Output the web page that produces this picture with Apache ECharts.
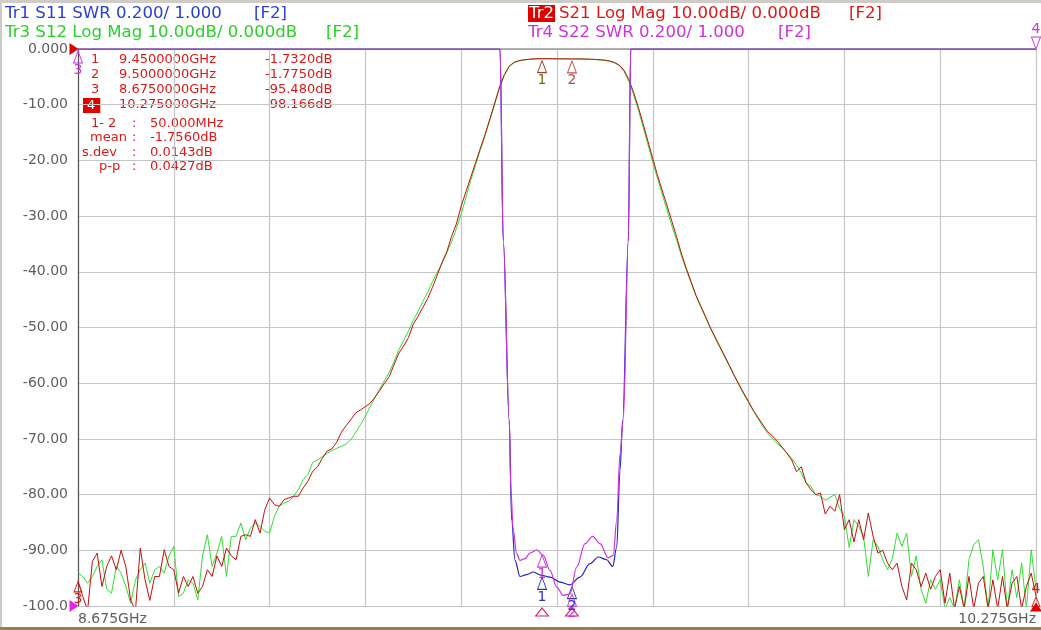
<!DOCTYPE html>
<html><head><meta charset="utf-8">
<script src="https://cdn.jsdelivr.net/npm/echarts@6/dist/echarts.min.js"></script>
<style>html,body{margin:0;padding:0;background:#fff}#c{width:1041px;height:630px}</style>
</head><body><div id="c"></div>
<script>
// sweep: 8.675 GHz .. 10.275 GHz, 201 points
const FREQ_START = 8.675, FREQ_STOP = 10.275, FREQ_STEP = 0.008;

// Tr2 S21 Log Mag (dB)
const s21LogMag = [
-95.5,-98.3,-100.8,-92,-90.5,-96.5,-92.9,-91,-93.5,-90,
-93,-99,-100.8,-89.6,-95.3,-99,-94.7,-94.7,-89.9,-92.9,
-93.5,-97.7,-94.7,-96.5,-94.7,-97.7,-96.5,-93.5,-94.7,-91,
-92.9,-89.6,-91,-91.7,-87.5,-87.2,-87.5,-84.5,-86.9,-82.7,
-80.6,-81.8,-82.1,-80.9,-80.6,-80.3,-80.3,-78.8,-77.6,-75.8,
-75,-73.5,-72.2,-71.8,-70.6,-68.8,-67.6,-66.5,-65.3,-64.8,
-64.2,-63.6,-62.5,-61.3,-60,-58.8,-56.6,-54.6,-53.3,-51.8,
-49.4,-48,-46.4,-44.8,-42.8,-40.6,-38.3,-36.4,-33.6,-31.4,
-28.2,-25.6,-23,-20.4,-17.8,-15.3,-12.5,-9.7,-6.8,-4.6,
-3.1,-2.4,-2.1,-1.95,-1.85,-1.78,-1.75,-1.73,-1.74,-1.75,
-1.76,-1.77,-1.77,-1.78,-1.78,-1.79,-1.81,-1.84,-1.88,-1.93,
-2.0,-2.15,-2.4,-2.9,-3.8,-5.5,-7.8,-10.5,-13.5,-16.6,
-19.7,-22.7,-25.5,-28.2,-31,-33.8,-36.8,-39.4,-41.8,-44.2,
-46.1,-48,-50,-51.7,-53.4,-55.1,-56.8,-58.6,-60.2,-61.8,
-63.3,-64.9,-66.2,-67.5,-68.7,-69.5,-70.4,-71.5,-72.6,-73.8,
-75.9,-75,-77.9,-79.1,-80,-79.7,-83.5,-82.1,-83,-80,
-86.3,-84.5,-88.5,-84.5,-88.1,-83.3,-87.5,-90.5,-90,-92.3,
-93.5,-92.3,-96.5,-98.9,-92.3,-93.5,-96.5,-94.1,-97,-94.7,
-93.5,-99.5,-94.1,-100.5,-96.5,-100.5,-94.7,-100.5,-95.9,-94.7,
-100.5,-95.3,-100.5,-94.7,-100.5,-95.9,-94.7,-100.5,-96.5,-94.1,
-98.2
];

// Tr3 S12 Log Mag (dB)
const s12LogMag = [
-94,-94.7,-95.9,-94.7,-92.9,-91.7,-97,-97.7,-92.9,-94.1,
-96.5,-99.5,-95.3,-93.5,-92.3,-95.9,-93.5,-92.9,-94.1,-91,
-89.3,-98.3,-97.7,-95.3,-95.9,-98.9,-91,-87.2,-92.9,-90.5,
-87.5,-94.7,-87.5,-87.5,-85.1,-88.1,-86,-85.1,-85.7,-86.6,
-86.9,-83.9,-82.1,-81.5,-81.2,-80.3,-79.1,-77.3,-76.4,-74.2,
-73.8,-73.2,-72.6,-72.1,-71.7,-71.3,-70.9,-70.1,-68.8,-67.4,
-65.9,-64.2,-62.6,-61,-59.5,-58,-56.1,-54,-52.3,-50.6,
-48.7,-47.1,-45.3,-43.7,-41.8,-40.1,-38.5,-36.6,-34.6,-32.2,
-29.6,-26.6,-23.6,-20.8,-18.1,-15.5,-12.7,-9.9,-7,-4.8,
-3.2,-2.5,-2.15,-1.98,-1.88,-1.8,-1.77,-1.75,-1.75,-1.76,
-1.77,-1.78,-1.78,-1.79,-1.79,-1.8,-1.82,-1.85,-1.9,-1.96,
-2.05,-2.2,-2.5,-3.0,-4.0,-5.8,-8.2,-11,-14.1,-17.2,
-20.3,-23.3,-26.2,-29,-31.8,-34.4,-37.2,-39.7,-42,-44.3,
-46.3,-48.2,-50.1,-51.9,-53.6,-55.3,-57,-58.7,-60.4,-62,
-63.5,-65,-66.4,-67.8,-69,-69.9,-70.8,-71.6,-72.5,-73.5,
-74.7,-76.1,-77.9,-78.5,-80,-80.3,-81,-80.5,-80,-82.5,
-83.9,-89.5,-84.5,-85.7,-87.5,-94.7,-88.1,-89.3,-91.7,-93.5,
-91.5,-86.9,-89.3,-86.9,-94.7,-91,-97,-99.5,-95.3,-97,
-95.3,-100.5,-98.5,-100.5,-95.3,-100.5,-91.7,-89,-88.1,-93,
-100.5,-89.9,-95.3,-89.9,-100.5,-93.5,-98.5,-92.3,-100.5,-89.9,
-97
];

// Tr1 S11 SWR (clamped at top of screen, 3.000)
const s11Freq = [8.675,9.3798,9.3853,9.3953,9.3993,9.4049,9.4132,9.4244,9.4354,9.4494,9.4633,9.4800,9.4967,9.5134,9.5301,9.5440,9.5580,9.5680,9.5747,9.5802,9.5847,9.5941,9.5981,10.275];
const s11Swr  = [3,3,2.31,1.667,1.307,1.164,1.106,1.113,1.122,1.11,1.104,1.086,1.076,1.104,1.152,1.176,1.166,1.142,1.211,1.487,1.667,2.31,3,3];

// Tr4 S22 SWR
const s22Freq = [8.675,9.3798,9.3853,9.3953,9.3977,9.4020,9.4077,9.4132,9.4216,9.4299,9.4411,9.4521,9.4633,9.4745,9.4855,9.4967,9.5079,9.5218,9.5346,9.5468,9.5607,9.5690,9.5747,9.5802,9.5857,9.5941,9.5981,10.275];
const s22Swr  = [3,3,2.31,1.667,1.427,1.271,1.188,1.164,1.17,1.19,1.202,1.182,1.128,1.068,1.038,1.044,1.14,1.224,1.25,1.224,1.173,1.182,1.307,1.547,1.667,2.31,3,3];

// markers
const markerNo   = [1, 2, 3, 4];
const markerFreq = [9.45, 9.5, 8.675, 10.275];
const markerS21  = [-1.732, -1.775, -95.48, -98.166];
const markerS11  = [1.11, 1.077];
const markerS22  = [1.19, 1.05, 3, 3];
const statLabels = ['1- 2', 'mean', 's.dev', 'p-p'];
const statValues = ['50.000MHz', '-1.7560dB', '0.0143dB', '0.0427dB'];

const freqs = s21LogMag.map((_, i) => +(FREQ_START + i * FREQ_STEP).toFixed(4));
const FONT = "'DejaVu Sans', Verdana, sans-serif";
const C_BLUE = '#2a3fd6', C_GREEN = '#2ccf2c', C_RED = '#e01818', C_MAG = '#cc33dd';

function fmtFreq(f) { return (f < 10 ? f.toFixed(7) : f.toFixed(6)) + 'GHz'; }
function fmtDb(v) { return (Math.abs(v) < 10 ? v.toFixed(4) : v.toFixed(3)) + 'dB'; }

function mp(coord, o) {
  return Object.assign({
    coord: coord, symbol: 'triangle', symbolSize: [9, 12], symbolOffset: [0, 8],
    itemStyle: { color: 'rgba(255,255,255,0)', borderColor: o.color, borderWidth: 1 },
    label: { show: !!o.text, formatter: o.text || '', position: o.pos || 'bottom', distance: 0,
             color: o.lc || o.color, fontSize: 14, fontFamily: FONT }
  }, o.extra || {});
}

const chart = echarts.init(document.getElementById('c'), null, { renderer: 'canvas' });

const graphics = [];
// window frame
graphics.push({ type: 'rect', left: 0, top: 0, shape: { width: 1041, height: 3 }, style: { fill: '#cfcbc6' }, silent: true });
graphics.push({ type: 'rect', left: 0, top: 0, shape: { width: 2, height: 630 }, style: { fill: '#cfcbc6' }, silent: true });
graphics.push({ type: 'rect', left: 0, top: 627, shape: { width: 1041, height: 3 }, style: { fill: '#9e7a55' }, silent: true });
// trace headers
function txt(x, y, s, color, size, extra) {
  graphics.push({ type: 'text', left: x, top: y, silent: true,
    style: Object.assign({ text: s, fill: color, font: size + 'px ' + FONT }, extra || {}) });
}
const HS = 16.6;
txt(5, 5, 'Tr1 S11 SWR 0.200/ 1.000', C_BLUE, HS);
txt(254, 5, '[F2]', C_BLUE, HS);
txt(5, 24, 'Tr3 S12 Log Mag 10.00dB/ 0.000dB', C_GREEN, HS);
txt(326, 24, '[F2]', C_GREEN, HS);
txt(528, 5, 'Tr2', '#ffffff', HS, { backgroundColor: '#e00000', padding: [0, 1, 0, 1] });
txt(559, 5, 'S21 Log Mag 10.00dB/ 0.000dB', C_RED, HS);
txt(849, 5, '[F2]', C_RED, HS);
txt(528, 24, 'Tr4 S22 SWR 0.200/ 1.000', C_MAG, HS);
txt(778, 24, '[F2]', C_MAG, HS);
// marker table
const TS = 13;
const rowTop = [53, 68, 83, 98];
markerNo.forEach((n, k) => {
  if (n === 4) txt(83, rowTop[k], String(n), '#ffffff', TS, { backgroundColor: '#e00000', padding: [1, 5, 1, 4] });
  else txt(91, rowTop[k], String(n), C_RED, TS);
  txt(119, rowTop[k], fmtFreq(markerFreq[k]), C_RED, TS);
  txt(265, rowTop[k], fmtDb(markerS21[k]), C_RED, TS);
});
const statLeft = [91, 90, 82, 99], statTop = [117, 131, 146, 160];
statLabels.forEach((s, k) => {
  txt(statLeft[k], statTop[k], s, C_RED, TS);
  txt(132, statTop[k], ':', C_RED, TS);
  txt(150, statTop[k], statValues[k], C_RED, TS);
});

const option = {
  backgroundColor: '#ffffff',
  animation: false,
  grid: { left: 78, right: 5, top: 49, bottom: 24 },
  xAxis: [
    { type: 'value', min: FREQ_START, max: FREQ_STOP,
      splitLine: { show: false }, axisTick: { show: false },
      axisLine: { show: true, lineStyle: { color: '#9a9a9a', width: 1.5 } },
      axisLabel: { showMinLabel: true, showMaxLabel: true, alignMinLabel: 'left', alignMaxLabel: 'right',
        color: '#606060', fontSize: 14, fontFamily: FONT, margin: 6,
        formatter: v => (Math.abs(v - FREQ_START) < 1e-6 || Math.abs(v - FREQ_STOP) < 1e-6) ? v.toFixed(3) + 'GHz' : '' } },
    { type: 'value', min: 0, max: 10, interval: 1, position: 'top',
      axisLine: { show: false }, axisTick: { show: false }, axisLabel: { show: false },
      splitLine: { show: true, lineStyle: { color: '#c6c6c6', width: 1.2 } } }
  ],
  yAxis: [
    { type: 'value', min: -100, max: 0, interval: 10,
      axisLine: { show: true, lineStyle: { color: '#555555', width: 1.2 } }, axisTick: { show: false },
      splitLine: { show: true, lineStyle: { color: '#c6c6c6', width: 1.2 } },
      axisLabel: { color: '#606060', fontSize: 14, fontFamily: FONT, margin: 10,
        formatter: v => v === 0 ? '0.000' : (v === -100 ? '-100.0' : v.toFixed(2)) } },
    { type: 'value', min: 1, max: 3, show: false, splitLine: { show: false } }
  ],
  graphic: graphics,
  series: [
    { name: 'S12', type: 'line', xAxisIndex: 0, yAxisIndex: 0, symbol: 'none',
      data: freqs.map((f, i) => [f, s12LogMag[i]]),
      lineStyle: { color: '#33dd33', width: 1 }, z: 2 },
    { name: 'S21', type: 'line', xAxisIndex: 0, yAxisIndex: 0, symbol: 'none',
      data: freqs.map((f, i) => [f, s21LogMag[i]]),
      lineStyle: { color: '#c40f0f', width: 1 }, z: 3,
      markPoint: { animation: false, data: [
        mp([markerFreq[0], markerS21[0]], { color: '#a04030', text: '1', lc: '#806a10' }),
        mp([markerFreq[1], markerS21[1]], { color: '#c05050', text: '2', lc: '#c04848' }),
        mp([markerFreq[2], markerS21[2]], { color: C_RED, text: '3', extra: { symbolSize: [8, 10], symbolOffset: [0, 6] } }),
        mp([markerFreq[3], markerS21[3]], { color: C_RED, text: '4', pos: 'top', extra: { symbolSize: [8, 10], symbolOffset: [0, 6] } }),
        mp([markerFreq[0], -100], { color: '#e0205a', extra: { symbolSize: [13, 8], symbolOffset: [0, 6] } }),
        mp([markerFreq[1], -100], { color: '#e0205a', extra: { symbolSize: [13, 8], symbolOffset: [0, 6] } }),
        { coord: [FREQ_START, 0], symbol: 'triangle', symbolRotate: -90, symbolSize: [12, 9], symbolOffset: [-4, 0],
          itemStyle: { color: '#e00000' }, label: { show: false } },
        { coord: [FREQ_STOP, -100], symbol: 'triangle', symbolSize: [12, 9], symbolOffset: [0, 1],
          itemStyle: { color: '#e00000' }, label: { show: false } }
      ] } },
    { name: 'S11', type: 'line', xAxisIndex: 0, yAxisIndex: 1, symbol: 'none', smooth: 0.35, smoothMonotone: 'x',
      data: s11Freq.map((f, i) => [f, s11Swr[i]]),
      lineStyle: { color: '#2222c8', width: 1.2 }, z: 4,
      markPoint: { animation: false, data: [
        mp([markerFreq[0], markerS11[0]], { color: '#3030c0', text: '1' }),
        mp([markerFreq[1], markerS11[1]], { color: '#3030c0', text: '2' })
      ] } },
    { name: 'S22', type: 'line', xAxisIndex: 0, yAxisIndex: 1, symbol: 'none', smooth: 0.35, smoothMonotone: 'x',
      data: s22Freq.map((f, i) => [f, s22Swr[i]]),
      lineStyle: { color: C_MAG, width: 1.2 }, z: 5,
      markPoint: { animation: false, data: [
        mp([markerFreq[0], markerS22[0]], { color: C_MAG, text: '1' }),
        mp([markerFreq[1], markerS22[1]], { color: C_MAG, text: '2' }),
        mp([markerFreq[2], markerS22[2]], { color: C_MAG, text: '3' }),
        mp([markerFreq[3], markerS22[3]], { color: C_MAG, text: '4', pos: 'top',
          extra: { symbolRotate: 180, symbolOffset: [0, -6] } }),
        { coord: [FREQ_START, 1], symbol: 'triangle', symbolRotate: -90, symbolSize: [12, 9], symbolOffset: [-4, 0],
          itemStyle: { color: '#ee22ee' }, label: { show: false } }
      ] } }
  ]
};
chart.setOption(option);
</script>
</body></html>
